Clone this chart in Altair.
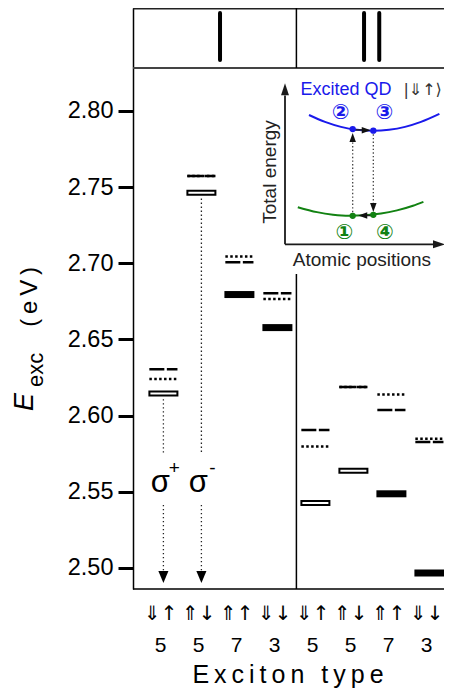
import altair as alt
import pandas as pd

FONT = "Liberation Sans"
SYMFONT = "DejaVu Sans"

# ---------------- main data (exciton energies, eV) ----------------
cols = [1, 2, 3, 4, 5, 6, 7, 8]
spin_labels = ["⇓↑", "⇑↓", "⇑↑", "⇓↓", "⇓↑", "⇑↓", "⇑↑", "⇓↓"]
degeneracy = ["5", "5", "7", "3", "5", "5", "7", "3"]
e_dashed = [2.6304, 2.7573, 2.7007, 2.6803, 2.5906, 2.6188, 2.6037, 2.5827]
e_dotted = [2.6241, 2.7573, 2.7044, 2.6766, 2.5797, 2.6188, 2.6138, 2.5849]
e_lowest = [2.6146, 2.7464, 2.6795, 2.6578, 2.5427, 2.5638, 2.5487, 2.4967]
bright = [True, True, False, False, True, True, False, False]

# optical transitions (sigma+ / sigma-)
sigma_cols = [1, 2]
sigma_sup = ["+", "-"]
sigma_top = [2.6108, 2.7425]
sigma_gap_hi = [2.5755, 2.5755]
sigma_gap_lo = [2.5414, 2.5414]
sigma_tip = [2.4902, 2.4902]

# panel header marks (I | II)
header_x = [2.49, 6.28, 6.68]

# ---------------- inset data (arbitrary units) ----------------
blue_u = [1.5, 2.5, 3.5, 4.5, 5.5, 6.5, 7.5, 8.5, 9.65]
blue_v = [8.08, 7.65, 7.34, 7.16, 7.10, 7.16, 7.34, 7.65, 8.15]
green_u = [0.8, 2.0, 3.0, 4.0, 5.0, 6.0, 7.0, 8.0, 8.65]
green_v = [2.32, 2.01, 1.85, 1.78, 1.81, 1.92, 2.12, 2.41, 2.65]
state_u = [4.23, 4.23, 5.52, 5.52]
state_v = [1.78, 7.20, 7.10, 1.84]
state_lbl = ["①", "②", "③", "④"]
state_lbl_u = [3.71, 3.48, 6.21, 6.25]
state_lbl_v = [0.72, 8.22, 8.22, 0.72]
state_kind = ["g", "e", "e", "g"]

BLUE = "#1a1aeb"
GREEN = "#128212"

X_MIN, X_MAX = 0.2, 8.384
Y_MIN, Y_MAX = 2.4862, 2.8676


def spaced(s):
    return "\u2009".join(s)


xs = alt.Scale(domain=[X_MIN, X_MAX], nice=False, zero=False)
ys = alt.Scale(domain=[Y_MIN, Y_MAX], nice=False, zero=False)

yaxis = alt.Axis(values=[2.50, 2.55, 2.60, 2.65, 2.70, 2.75, 2.80], format=".2f",
                 tickSize=15, tickWidth=3, tickColor="black", domainColor="black",
                 domainWidth=1.5, labelFont=FONT, labelFontSize=23.5, labelColor="black",
                 labelPadding=5, grid=False, title=None, labelFlush=False,
                 labelOverlap=False)


def MX(f):
    return alt.X(f, scale=xs, axis=None)


def MY(f):
    return alt.Y(f, scale=ys, axis=yaxis)


lev = pd.DataFrame({
    "col": cols, "dash": e_dashed, "dot": e_dotted, "low": e_lowest,
    "bright": bright, "spin": spin_labels, "deg": degeneracy,
})

base = alt.Chart(lev).transform_calculate(xa="datum.col - 0.37", xb="datum.col + 0.37")

dashed = base.mark_rule(strokeWidth=2.5, strokeDash=[15, 2.5], color="black").encode(
    x=MX("xa:Q"), x2="xb:Q", y=MY("dash:Q"))
dotted = base.mark_rule(strokeWidth=2.5, strokeDash=[2.5, 2.4], color="black").encode(
    x=MX("xa:Q"), x2="xb:Q", y=MY("dot:Q"))
hollow = alt.Chart(lev).transform_filter("datum.bright").mark_tick(
    orient="horizontal", filled=False, stroke="black", strokeWidth=2, size=28, thickness=4,
    opacity=1, strokeOpacity=1).encode(x=MX("col:Q"), y=MY("low:Q"))
solid = alt.Chart(lev).transform_filter("!datum.bright").mark_tick(
    orient="horizontal", color="black", size=30, thickness=7, opacity=1).encode(
    x=MX("col:Q"), y=MY("low:Q"))

spin_txt = alt.Chart(lev).mark_text(font=SYMFONT, fontSize=20, dx=-2.7, baseline="alphabetic",
                                    color="black").encode(
    x=MX("col:Q"), y=alt.value(612), text="spin:N")
deg_txt = alt.Chart(lev).mark_text(font=FONT, fontSize=21, dx=-2.7, baseline="alphabetic",
                                   color="black").encode(
    x=MX("col:Q"), y=alt.value(643.7), text="deg:N")

# sigma transitions
sig = pd.DataFrame({"col": sigma_cols, "sup": sigma_sup, "top": sigma_top,
                    "ghi": sigma_gap_hi, "glo": sigma_gap_lo, "tip": sigma_tip})
sig_base = alt.Chart(sig).transform_calculate(
    base="datum.tip + 0.0079", sg="'σ'", a="2.5499", b="2.5657")
sig_up = sig_base.mark_rule(strokeWidth=1.3, strokeDash=[1.4, 2.6], color="#222").encode(
    x=MX("col:Q"), y=MY("top:Q"), y2="ghi:Q")
sig_lo = sig_base.mark_rule(strokeWidth=1.3, strokeDash=[1.4, 2.6], color="#222").encode(
    x=MX("col:Q"), y=MY("glo:Q"), y2="base:Q")
sig_head = sig_base.mark_point(shape="M0,0L-0.42,-1L0.42,-1Z", size=576, filled=True,
                               color="black", opacity=1).encode(
    x=MX("col:Q"), y=MY("tip:Q"))
sig_txt = sig_base.mark_text(font=FONT, fontSize=31, dx=-3, baseline="alphabetic",
                             color="black").encode(
    x=MX("col:Q"), y=MY("a:Q"), text="sg:N")
sig_sup = sig_base.mark_text(font=FONT, fontSize=19, dx=11, baseline="middle",
                             color="black").encode(
    x=MX("col:Q"), y=MY("b:Q"), text="sup:N")

# frame
hl = pd.DataFrame({"y": [Y_MAX, 2.8282, Y_MIN], "w": [3.0, 2.0, 1.6],
                   "c": ["#222222", "#444444", "#000000"]})
hlines = alt.Chart(hl).transform_calculate(x0=str(X_MIN), x1=str(X_MAX)).mark_rule().encode(
    x=MX("x0:Q"), x2="x1:Q", y=MY("y:Q"),
    strokeWidth=alt.StrokeWidth("w:Q", scale=None),
    color=alt.Color("c:N", scale=None))
dv = pd.DataFrame({"x": [4.5, 4.5], "y0": [Y_MIN, 2.8282], "y1": [2.6930, Y_MAX]})
divider = alt.Chart(dv).mark_rule(strokeWidth=1.5, color="black").encode(
    x=MX("x:Q"), y=MY("y0:Q"), y2="y1:Q")
hd = pd.DataFrame({"x": header_x})
header = alt.Chart(hd).transform_calculate(a="2.8643", b="2.8335").mark_rule(
    strokeWidth=4, strokeCap="round", color="black").encode(
    x=MX("x:Q"), y=MY("a:Q"), y2="b:Q")

# titles (pixel placed annotations)
tdf = pd.DataFrame({"t": [spaced("Exciton") + "\u2009 \u2009" + spaced("type")]})
xtitle = alt.Chart(tdf).mark_text(font=FONT, fontSize=25, baseline="alphabetic",
                                  align="center", color="black").encode(
    x=alt.value(155), y=alt.value(675), text="t:N")
ytE = alt.Chart(pd.DataFrame({"t": ["E"]})).mark_text(
    font=FONT, fontSize=27, fontStyle="italic", angle=270, align="left",
    baseline="alphabetic", color="black").encode(x=alt.value(-99.7), y=alt.value(403), text="t:N")
ytSub = alt.Chart(pd.DataFrame({"t": ["exc"]})).mark_text(
    font=FONT, fontSize=22, angle=270, align="left",
    baseline="alphabetic", color="black").encode(x=alt.value(-89.7), y=alt.value(379), text="t:N")
ytU = alt.Chart(pd.DataFrame({"t": [spaced("(eV)")]})).mark_text(
    font=FONT, fontSize=24, angle=270, align="left",
    baseline="alphabetic", color="black").encode(x=alt.value(-95.7), y=alt.value(318.7), text="t:N")

main = alt.layer(hlines, divider, header, dashed, dotted, hollow, solid, sig_up, sig_lo,
                 sig_head, sig_txt, sig_sup, spin_txt, deg_txt, xtitle, ytE, ytSub, ytU)

# ---------------- inset ----------------
ixs = alt.Scale(domain=[0, 10], range=[152, 312], nice=False, zero=False)
iys = alt.Scale(domain=[0, 10], range=[236.3, 76.3], nice=False, zero=False)


def IX(f):
    return alt.X(f, scale=ixs, axis=None)


def IY(f):
    return alt.Y(f, scale=iys, axis=None)


curves = pd.DataFrame({"u": blue_u + green_u, "v": blue_v + green_v,
                       "k": ["e"] * len(blue_u) + ["g"] * len(green_u)})
kscale = alt.Scale(domain=["e", "g"], range=[BLUE, GREEN])
curve_l = alt.Chart(curves).mark_line(interpolate="monotone", strokeWidth=2).encode(
    x=IX("u:Q"), y=IY("v:Q"), color=alt.Color("k:N", scale=kscale, legend=None), detail="k:N")

st = pd.DataFrame({"u": state_u, "v": state_v, "lbl": state_lbl, "lu": state_lbl_u,
                   "lv": state_lbl_v, "k": state_kind})
pts = alt.Chart(st).mark_point(filled=True, size=40, opacity=1, shape="circle").encode(
    x=IX("u:Q"), y=IY("v:Q"), color=alt.Color("k:N", scale=kscale, legend=None))
nums = alt.Chart(st).mark_text(font=SYMFONT, fontSize=21, fontWeight="bold",
                               baseline="middle").encode(
    x=IX("lu:Q"), y=IY("lv:Q"), text="lbl:N", color=alt.Color("k:N", scale=kscale, legend=None))

# inset axes
ax = pd.DataFrame({"u0": [0.0, 0.0], "v0": [0.0, 0.0], "u1": [0.0, 9.3], "v1": [9.3, 0.0]})
axes_l = alt.Chart(ax).mark_rule(strokeWidth=1.8, color="#1a1a1a").encode(
    x=IX("u0:Q"), x2="u1:Q", y=IY("v0:Q"), y2="v1:Q")
heads = pd.DataFrame({"u": [0.0, 10.0], "v": [10.06, 0.0], "ang": [180, 270]})
axes_h = alt.Chart(heads).mark_point(shape="M0,0L-0.33,-1L0.33,-1Z", size=576, filled=True,
                                     color="#1a1a1a", opacity=1).encode(
    x=IX("u:Q"), y=IY("v:Q"), angle=alt.Angle("ang:Q", scale=None))

# transitions inside inset
tr_dot = pd.DataFrame({"u": [4.23, 5.52], "v0": [1.78, 7.10], "v1": [6.41, 2.58]})
tr_d = alt.Chart(tr_dot).mark_rule(strokeWidth=1.3, strokeDash=[1.4, 2.2], color="#444").encode(
    x=IX("u:Q"), y=IY("v0:Q"), y2="v1:Q")
tr_sol = pd.DataFrame({"u0": [4.23, 5.52], "u1": [4.85, 5.10], "v": [7.15, 1.80]})
tr_s = alt.Chart(tr_sol).mark_rule(strokeWidth=1.5, color="#222").encode(
    x=IX("u0:Q"), x2="u1:Q", y=IY("v:Q"))
tr_heads = pd.DataFrame({"u": [4.23, 5.52, 5.36, 4.58], "v": [6.96, 2.02, 7.13, 1.80],
                         "ang": [180, 0, 270, 90]})
tr_h = alt.Chart(tr_heads).mark_point(shape="M0,0L-0.36,-1L0.36,-1Z", size=324, filled=True,
                                      color="#111", opacity=1).encode(
    x=IX("u:Q"), y=IY("v:Q"), angle=alt.Angle("ang:Q", scale=None))

itxt = pd.DataFrame({"t": ["Excited QD"], "u": [3.81], "v": [9.64]})
i_exc = alt.Chart(itxt).mark_text(font=FONT, fontSize=18, baseline="middle", color=BLUE).encode(
    x=IX("u:Q"), y=IY("v:Q"), text="t:N")
iket = pd.DataFrame({"t": ["|⇓↑⟩"], "u": [8.6], "v": [9.64]})
i_ket = alt.Chart(iket).mark_text(font=SYMFONT, fontSize=16, baseline="middle", color="#333").encode(
    x=IX("u:Q"), y=IY("v:Q"), text="t:N")
ity = pd.DataFrame({"t": ["Total energy"], "u": [-0.94], "v": [4.52]})
i_ty = alt.Chart(ity).mark_text(font=FONT, fontSize=19, baseline="middle", angle=270,
                                color="#222").encode(x=IX("u:Q"), y=IY("v:Q"), text="t:N")
itx = pd.DataFrame({"t": ["Atomic positions"], "u": [4.81], "v": [-0.98]})
i_tx = alt.Chart(itx).mark_text(font=FONT, fontSize=19, baseline="middle",
                                color="#222").encode(x=IX("u:Q"), y=IY("v:Q"), text="t:N")

inset = alt.layer(axes_l, axes_h, curve_l, tr_d, tr_s, tr_h, pts, nums, i_exc, i_ket, i_ty, i_tx)

chart = alt.layer(main, inset).resolve_scale(
    x="independent", y="independent", color="independent"
).properties(
    width=311, height=581, autosize="none",
    padding={"left": 125, "top": 0, "right": 0, "bottom": 101},
).configure_view(stroke=None)

chart.save("out.html", embed_options={"renderer": "svg", "actions": False})
